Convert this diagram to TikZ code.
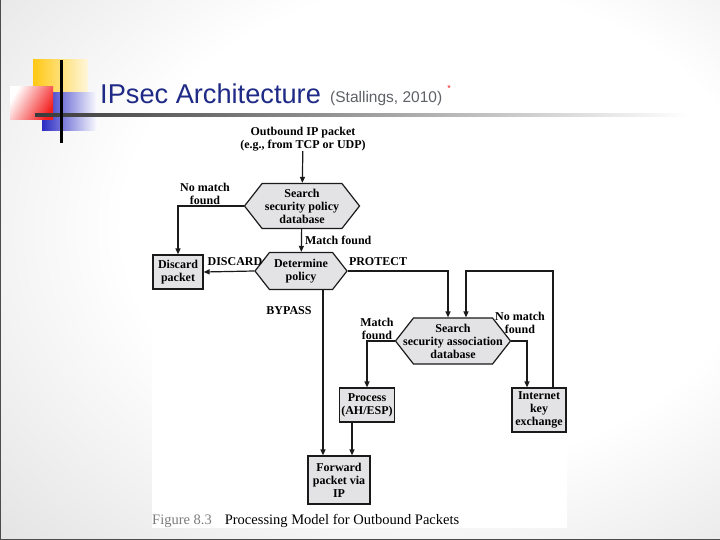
\documentclass[tikz,border=0pt]{standalone}
\usepackage{fontspec}
\setmainfont{Liberation Serif}
\newfontfamily\slidefont{Liberation Sans}
\usetikzlibrary{arrows.meta,calc,positioning,shapes.symbols}
\definecolor{slideTitle}{HTML}{1E2A86}
\definecolor{slideMuted}{HTML}{5E6166}
\definecolor{slideBar}{HTML}{3A3A3A}
\definecolor{markYellow}{HTML}{FFC814}
\definecolor{markBlue}{HTML}{2B2BC4}
\definecolor{markRed}{HTML}{F41E1E}
\definecolor{flowLine}{HTML}{1A1A1A}
\definecolor{flowFill}{HTML}{E3E3E5}
\definecolor{captionGray}{HTML}{7C7C7C}
\newcommand{\flowtext}{\fontsize{12}{13}\selectfont\bfseries}
\pgfdeclareradialshading{slidebg}{\pgfpoint{8bp}{6bp}}{%
  color(0bp)=(white); color(22bp)=(white); color(72bp)=(black!30)}

\begin{document}
\begin{tikzpicture}[
  x=1pt, y=-1pt,
  >={Triangle[length=6pt,width=5pt]},
  box/.style={
    draw=flowLine,
    fill=flowFill,
    line width=1.2pt,
    inner sep=1pt,
    align=center,
    font=\flowtext
  },
  hexbox/.style={
    box,
    shape=signal,
    signal to=west and east,
    signal pointer angle=104,
    inner sep=0pt
  },
  tag/.style={align=center, font=\flowtext, inner sep=0pt},
  flow/.style={->, draw=flowLine, line width=1.2pt}
]
\useasboundingbox (0,0) rectangle (720,540);

% Slide background and title marks.
\shade[shading=slidebg] (0,0) rectangle (720,540);
\draw[black!70, line width=1pt] (0.5,0) -- (0.5,539.5) -- (720,539.5);
\shade[left color=markYellow, right color=markYellow!15] (33,60) rectangle (88,93);
\shade[left color=markBlue, right color=white] (42,93) rectangle (98,131);
\shade[left color=white, right color=markRed, shading angle=60] (10,87) rectangle (53,120);
\shade[left color=slideBar, right color=white] (35,113.5) rectangle (688,116.5);
\fill[black] (59.5,60) rectangle (62.5,143);

\node[anchor=base west, inner sep=0pt, text=slideTitle,
      font=\slidefont\fontsize{27.2}{30}\selectfont] (title) at (100,104) {IPsec Architecture};
\node[anchor=base west, inner sep=0pt, text=slideMuted,
      font=\slidefont\fontsize{15.5}{18}\selectfont] (cite) at (330,103) {(Stallings, 2010)};
\node[text=markRed, inner sep=0pt, font=\slidefont\small] (star) at (449,88) {*};

% Figure panel.
\fill[white] (152,123) rectangle (567,528);

% Processing steps; hexagon texts are labels so they may run over the edges.
\node[tag] (outbound) at (303,139) {Outbound IP packet\\(e.g., from TCP or UDP)};
\node[hexbox, minimum width=115pt, minimum height=45pt,
      label={[tag]center:{Search\\security policy\\database}}] (spd) at (302,206) {};
\node[hexbox, minimum width=92pt, minimum height=37pt,
      label={[tag]center:{Determine\\policy}}] (policy) at (301,271) {};
\node[box, minimum width=50pt, minimum height=34pt] (discard) at (178,272)
  {Discard\\packet};
\node[hexbox, minimum width=115pt, minimum height=46pt,
      label={[tag]center:{Search\\security association\\database}}] (sad) at (453,341) {};
\node[box, minimum width=55pt, minimum height=34pt] (process) at (367,405)
  {Process\\(AH/ESP)};
\node[box, minimum width=54pt, minimum height=44pt] (ike) at (539,410)
  {Internet\\key\\exchange};
\node[box, minimum width=62pt, minimum height=48pt] (forward) at (339,480)
  {Forward\\packet via\\IP};

% Branch labels.
\node[tag] (spd-miss) at (205,194) {No match\\found};
\node[tag] (policy-discard) at (235,262) {DISCARD};
\node[tag] (policy-protect) at (378,262) {PROTECT};
\node[tag] (policy-bypass) at (289,311) {BYPASS};
\node[tag] (sad-hit) at (377,329) {Match\\found};
\node[tag] (sad-miss) at (520,323) {No match\\found};

% Entry and exit points that sit off the node centres.
\coordinate (protect-in) at ([xshift=-5pt]sad.north);
\coordinate (retry-in) at ([xshift=13pt]sad.north);
\coordinate (ike-in) at ([xshift=-12pt]ike.north);
\coordinate (ike-out) at ([xshift=14pt]ike.north);
\coordinate (bypass-out) at ([xshift=22pt]policy.south);
\coordinate (esp-out) at ([xshift=-15pt]process.south);

\draw[flow] (outbound) -- (spd);
\draw[flow] (spd.west) -| (discard.north);
\draw[flow] (spd) -- node[right, tag, xshift=3pt] {Match found} (policy);
\draw[flow] (policy.west) -- (discard.east);
\draw[flow] (policy.east) -| (protect-in);
\draw[flow] (ike-out) |- (policy.east -| retry-in) -- (retry-in);
\draw[flow] (sad.west) -| (process.north);
\draw[flow] (sad.east) -| (ike-in);
\draw[flow] (bypass-out) -- (bypass-out |- forward.north);
\draw[flow] (esp-out) -- (esp-out |- forward.north);

% Caption.
\node[anchor=base west, inner sep=0pt, font=\fontsize{14.5}{16}\selectfont] (caption)
  at (152,524) {\textcolor{captionGray}{Figure 8.3}\hspace{0.9em}Processing Model for Outbound Packets};
\end{tikzpicture}
\end{document}
